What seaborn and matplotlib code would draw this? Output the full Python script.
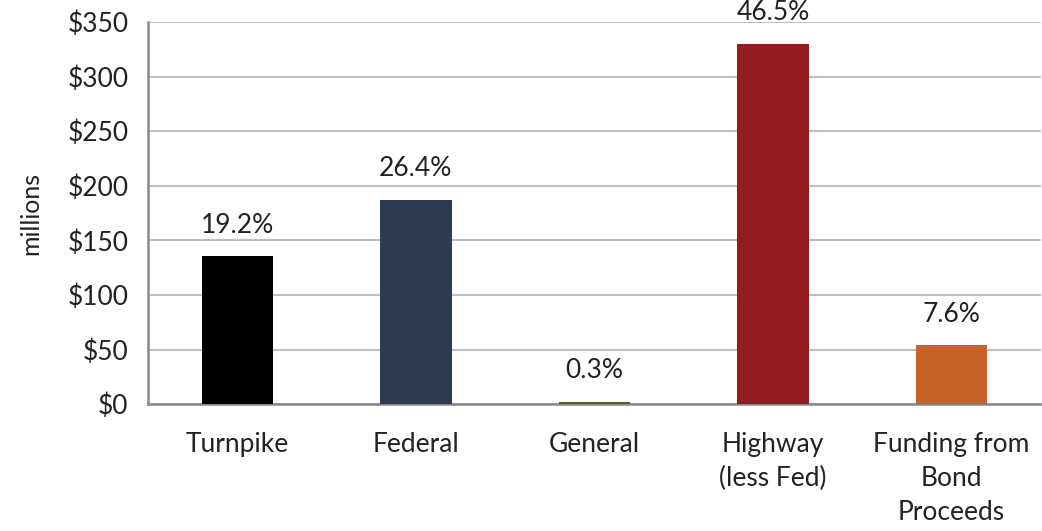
import matplotlib
matplotlib.use("Agg")
import matplotlib.pyplot as plt
import seaborn as sns
import pandas as pd

categories = ["Turnpike", "Federal", "General", "Highway\n(less Fed)", "Funding from\nBond\nProceeds"]
values = [135.5, 187.0, 2.1, 330.0, 54.0]
pct_labels = ["19.2%", "26.4%", "0.3%", "46.5%", "7.6%"]
colors = ["#000000", "#2E3A52", "#4F6228", "#941C21", "#C8622A"]
yticks = [0, 50, 100, 150, 200, 250, 300, 350]

df = pd.DataFrame({"source": categories, "amount": values})

sns.set_style("white")
plt.rcParams["font.family"] = ["Lato", "DejaVu Sans"]

fig = plt.figure(figsize=(10.42, 5.31), dpi=100)
ax = fig.add_axes([0.142, 0.239, 0.857, 0.7196])

sns.barplot(data=df, x="source", y="amount", hue="source", palette=colors,
            legend=False, width=0.4, ax=ax, saturation=1)
for p in ax.patches:
    p.set_zorder(3)
    p.set_linewidth(0)

ax.set_ylim(0, 350)
ax.set_xlim(-0.5, 4.5)
ax.set_yticks(yticks)
ax.set_yticklabels([f"${v}" for v in yticks], fontsize=19, color="#222222")
ax.yaxis.grid(True, color="#BFBFBF", linewidth=1.5)
ax.set_axisbelow(True)

# category labels centred, ticks between categories
ax.set_xticks(range(len(categories)))
ax.set_xticklabels(categories, fontsize=19, color="#222222", linespacing=1.45)
ax.tick_params(axis="x", length=0, pad=20)
ax.set_xticks([i - 0.5 for i in range(len(categories) + 1)], minor=True)
ax.tick_params(axis="x", which="minor", length=8, width=1.5, color="#898989", direction="out")
ax.tick_params(axis="y", length=8, width=1.5, color="#898989", direction="out", pad=6)

for s in ["top", "right"]:
    ax.spines[s].set_visible(False)
for s in ["left", "bottom"]:
    ax.spines[s].set_color("#898989")
    ax.spines[s].set_linewidth(1.8)

for i, (v, lab) in enumerate(zip(values, pct_labels)):
    ax.text(i, v + 17, lab, ha="center", va="bottom", fontsize=19, color="#222222")

ax.set_xlabel("")
ax.set_ylabel("millions", fontsize=18, color="#222222", labelpad=18)

fig.savefig("out.png", dpi=100)
